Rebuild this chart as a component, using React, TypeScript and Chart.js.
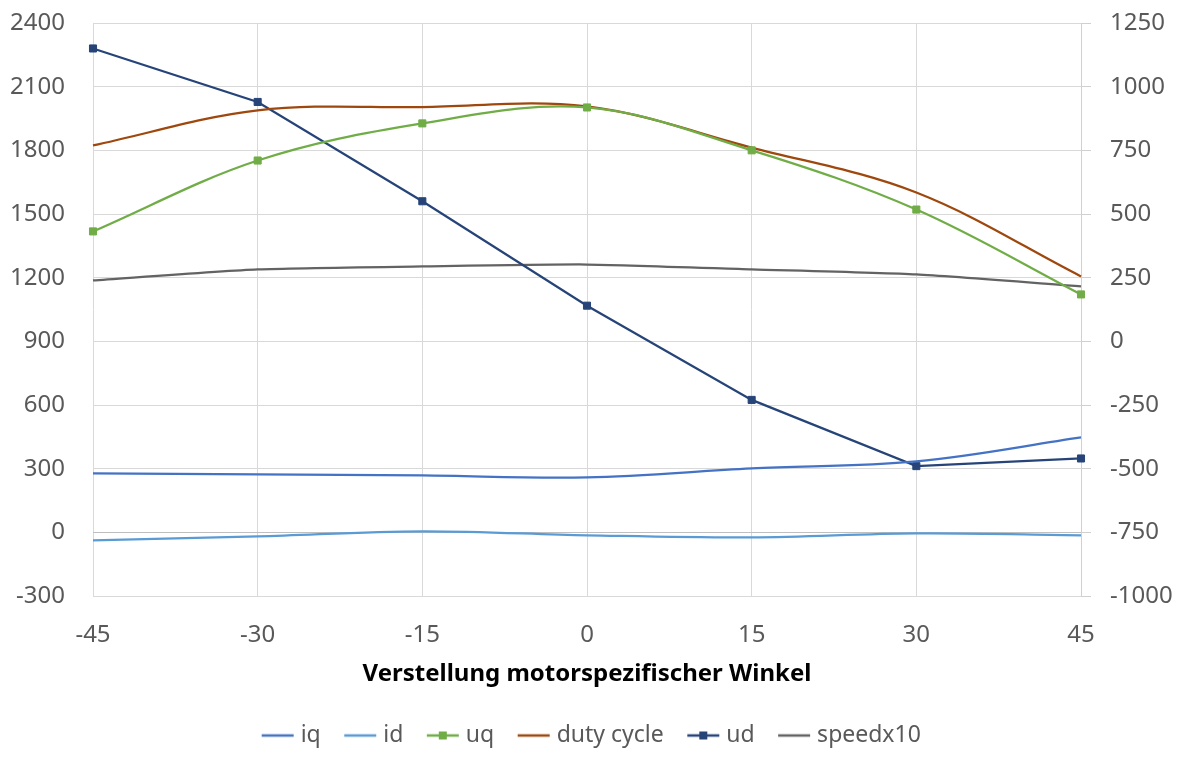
import React, { useEffect, useRef } from 'react';
import { Chart, registerables } from 'chart.js';
Chart.register(...registerables);

const angles = ['-45', '-30', '-15', '0', '15', '30', '45'];
const iq = [278, 273, 268, 259, 301, 334, 447];
const id = [-38, -19, 5, -14, -24, -5, -14];
const uq = [1418, 1752, 1927, 2002, 1800, 1521, 1121];
const dutyCycle = [1823, 1988, 2004, 2007, 1813, 1601, 1206];
const ud = [1150, 940, 550, 140, -230, -490, -460]; // right axis
const speedx10 = [1187, 1239, 1253, 1262, 1239, 1215, 1159];

const xTitle = 'Verstellung motorspezifischer Winkel';
const FONT = "'Noto Sans', 'Open Sans', sans-serif";

function legendIcon(color: string, marker: boolean) {
  const c = document.createElement('canvas');
  c.width = 34;
  c.height = 12;
  const g = c.getContext('2d')!;
  g.strokeStyle = color;
  g.lineWidth = 2.5;
  g.beginPath();
  g.moveTo(1, 6);
  g.lineTo(33, 6);
  g.stroke();
  if (marker) {
    g.fillStyle = color;
    g.fillRect(13, 2, 8, 8);
  }
  return c;
}

export default function App() {
  const ref = useRef<HTMLCanvasElement>(null);
  useEffect(() => {
    document.body.style.margin = '0';
    const series = [
      { label: 'iq', data: iq, color: '#4472C4', marker: false, axis: 'y', tension: 0.35 },
      { label: 'id', data: id, color: '#5B9BD5', marker: false, axis: 'y', tension: 0.35 },
      { label: 'uq', data: uq, color: '#70AD47', marker: true, axis: 'y', tension: 0.35 },
      { label: 'duty cycle', data: dutyCycle, color: '#9E480E', marker: false, axis: 'y', tension: 0.35 },
      { label: 'ud', data: ud, color: '#264478', marker: true, axis: 'y2', tension: 0 },
      { label: 'speedx10', data: speedx10, color: '#636363', marker: false, axis: 'y', tension: 0.2 },
    ];
    const icons = series.map((s) => legendIcon(s.color, s.marker));
    const fixPad = (s: any, w: number) => {
      s.width = w;
      s.paddingTop = 0;
      s.paddingBottom = 0;
    };
    const chart = new Chart(ref.current!, {
      type: 'line',
      data: {
        labels: angles,
        datasets: series.map((s) => ({
          label: s.label,
          data: s.data,
          yAxisID: s.axis,
          borderColor: s.color,
          backgroundColor: s.color,
          borderWidth: 2.25,
          tension: s.tension,
          pointStyle: 'rect',
          pointRadius: s.marker ? 5 : 0,
          pointBorderWidth: 1,
          pointHoverRadius: s.marker ? 5 : 0,
          fill: false,
        })),
      },
      options: {
        animation: false,
        responsive: false,
        layout: { padding: { top: 23, bottom: 0, left: 0, right: 0 } },
        plugins: {
          tooltip: { enabled: false },
          legend: {
            position: 'bottom',
            labels: {
              usePointStyle: true,
              pointStyleWidth: 23,
              padding: 28,
              color: '#595959',
              font: { family: FONT, size: 23 },
              generateLabels: (chart: any) =>
                chart.data.datasets.map((d: any, i: number) => ({
                  text: d.label,
                  fillStyle: d.borderColor,
                  strokeStyle: d.borderColor,
                  fontColor: '#595959',
                  lineWidth: 0,
                  pointStyle: icons[i],
                  hidden: false,
                  datasetIndex: i,
                })),
            },
          },
        },
        scales: {
          x: {
            type: 'category',
            offset: false,
            grid: { color: '#d9d9d9', lineWidth: 1, drawTicks: false, offset: false },
            border: { display: false },
            ticks: { color: '#595959', font: { family: FONT, size: 24 }, padding: 25, maxRotation: 0 },
            title: {
              display: true,
              text: xTitle,
              color: '#000000',
              font: { family: FONT, size: 24, weight: 'bold' },
              padding: { top: 0, bottom: 7 },
            },
            afterFit: (s: any) => {
              s.height = 100;
            },
          },
          y: {
            position: 'left',
            min: -300,
            max: 2400,
            ticks: {
              stepSize: 300,
              color: '#595959',
              font: { family: FONT, size: 24 },
              padding: 28,
              callback: (v: any) => String(v),
            },
            grid: {
              drawTicks: false,
              color: (c: any) => (c.tick && c.tick.value === 0 ? '#bfbfbf' : '#d9d9d9'),
              lineWidth: 1,
            },
            border: { display: false },
            afterFit: (s: any) => fixPad(s, 93),
          },
          y2: {
            position: 'right',
            min: -1000,
            max: 1250,
            ticks: {
              stepSize: 250,
              color: '#595959',
              font: { family: FONT, size: 24 },
              padding: 19,
              callback: (v: any) => String(v),
            },
            grid: { drawOnChartArea: false, drawTicks: true, tickLength: 10, color: '#d0d0d0' },
            border: { display: true, color: '#d0d0d0' },
            afterFit: (s: any) => fixPad(s, 106),
          },
        },
      } as any,
    });
    return () => chart.destroy();
  }, []);
  return (
    <div style={{ position: 'absolute', left: 0, top: 0, width: 1187, height: 757 }}>
      <canvas ref={ref} width={1187} height={757} />
    </div>
  );
}
